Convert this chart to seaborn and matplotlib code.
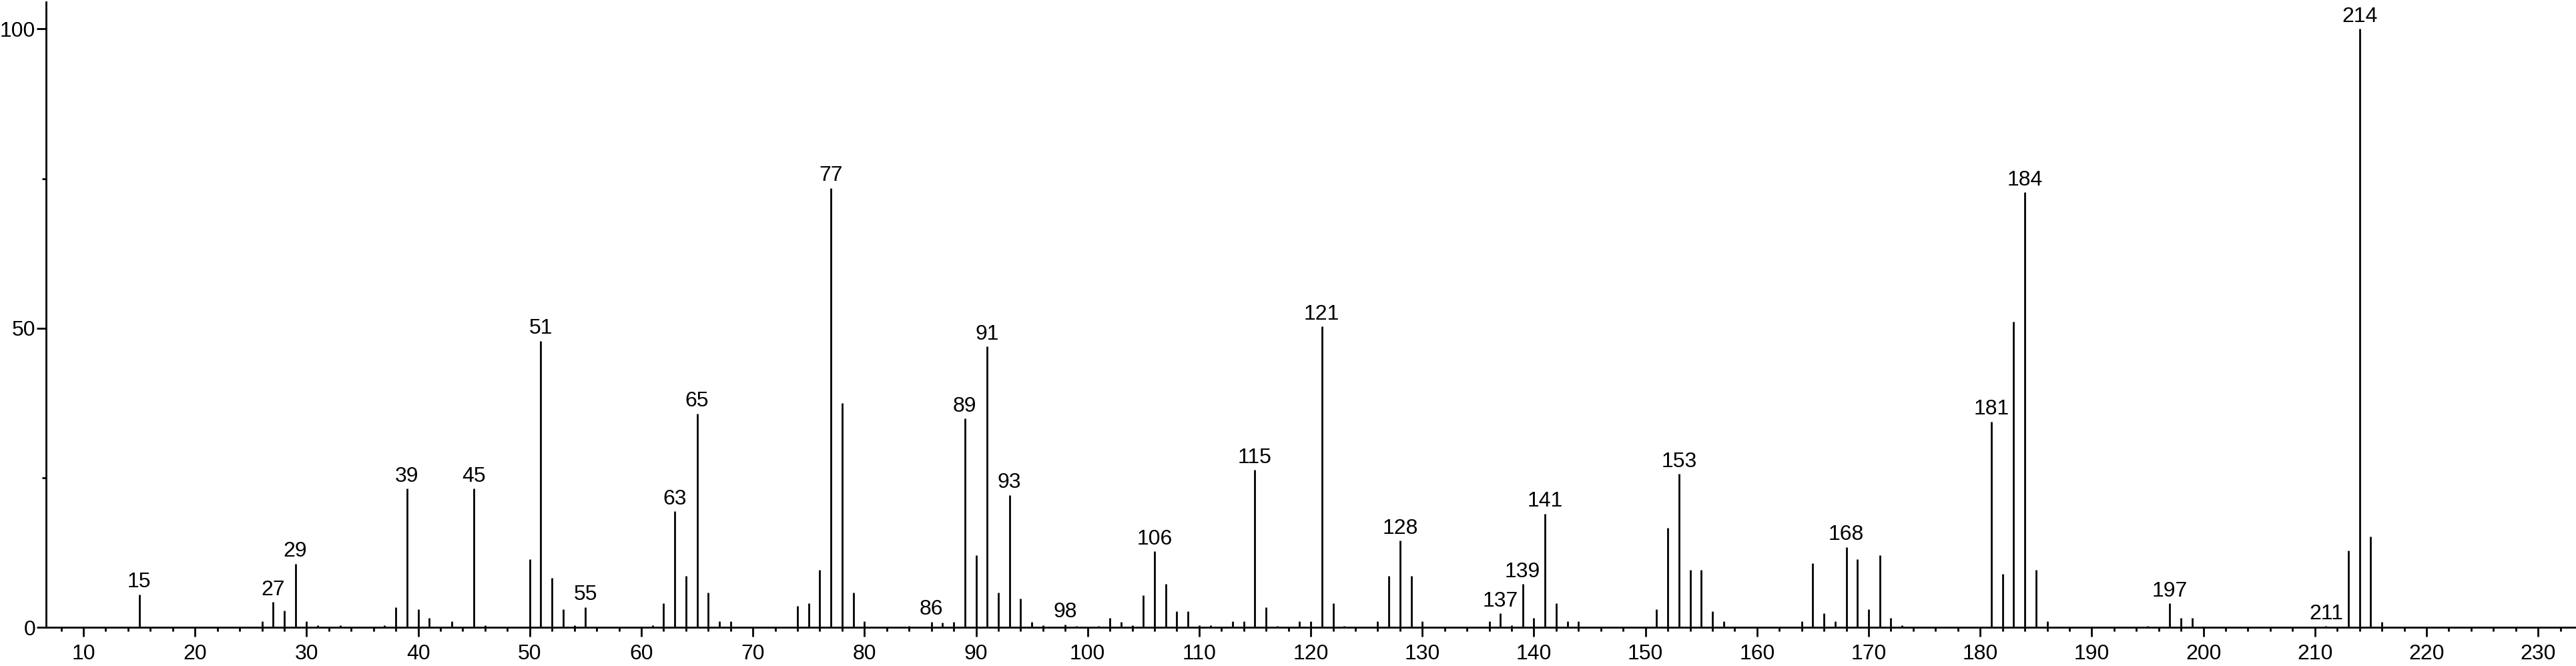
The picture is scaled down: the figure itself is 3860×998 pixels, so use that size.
import matplotlib
matplotlib.use("Agg")
import matplotlib.pyplot as plt
from matplotlib.ticker import MultipleLocator
import seaborn as sns
import pandas as pd

# m/z values and relative intensities (%)
mz = [15, 26, 27, 28, 29, 30, 31, 33, 37, 38, 39, 40, 41, 43, 45, 46,
      50, 51, 52, 53, 54, 55, 61, 62, 63, 64, 65, 66, 67, 68,
      74, 75, 76, 77, 78, 79, 80, 84, 86, 87, 88, 89, 90, 91, 92, 93, 94, 95, 96,
      98, 99, 101, 102, 103, 104, 105, 106, 107, 108, 109, 110, 111, 113, 114,
      115, 116, 117, 119, 120, 121, 122, 123, 126, 127, 128, 129, 130,
      136, 137, 138, 139, 140, 141, 142, 143, 144,
      151, 152, 153, 154, 155, 156, 157,
      164, 165, 166, 167, 168, 169, 170, 171, 172, 173,
      181, 182, 183, 184, 185, 186,
      195, 197, 198, 199, 211, 213, 214, 215, 216]
intensity = [5.5, 1.0, 4.2, 2.8, 10.6, 1.0, 0.3, 0.3, 0.3, 3.4, 23.2, 3.0, 1.6, 1.0, 23.2, 0.3,
             11.4, 47.9, 8.2, 3.0, 0.3, 3.4, 0.3, 4.0, 19.4, 8.6, 35.7, 5.8, 1.0, 1.0,
             3.6, 4.0, 9.6, 73.4, 37.5, 5.8, 1.0, 0.2, 0.9, 0.8, 0.9, 34.9, 12.0, 46.9, 5.8, 22.1, 4.8, 0.9, 0.3,
             0.5, 0.2, 0.2, 1.6, 0.9, 0.3, 5.4, 12.7, 7.2, 2.7, 2.7, 0.3, 0.3, 1.0, 1.0,
             26.3, 3.4, 0.2, 1.0, 1.0, 50.3, 4.0, 0.2, 1.0, 8.6, 14.5, 8.6, 1.0,
             1.0, 2.3, 0.3, 7.2, 1.6, 19.0, 4.0, 1.0, 1.0,
             3.0, 16.6, 25.6, 9.6, 9.6, 2.7, 1.0,
             1.0, 10.7, 2.3, 1.0, 13.4, 11.4, 3.0, 12.1, 1.6, 0.3,
             34.4, 8.9, 51.1, 72.7, 9.6, 1.0,
             0.2, 4.0, 1.6, 1.6, 0.2, 12.8, 100.0, 15.2, 0.9]
labeled = [15, 27, 29, 39, 45, 51, 55, 63, 65, 77, 86, 89, 91, 93, 98, 106,
           115, 121, 128, 137, 139, 141, 153, 168, 181, 184, 197, 211, 214]
xticks = [10, 20, 30, 40, 50, 60, 70, 80, 90, 100, 110, 120, 130, 140, 150,
          160, 170, 180, 190, 200, 210, 220, 230]
yticks = [0, 50, 100]

df = pd.DataFrame({"mz": mz, "intensity": intensity})

sns.set_style("ticks")
plt.rcParams["font.family"] = ["Liberation Sans", "DejaVu Sans"]

W, H = 3860, 998
fig = plt.figure(figsize=(W / 100, H / 100), dpi=100)
ax = fig.add_axes([69 / W, 58 / H, 1 - 69 / W, 937 / H])

ax.vlines(df["mz"], 0, df["intensity"], colors="black", linewidth=2.0)

lut = dict(zip(mz, intensity))
for m in labeled:
    ax.annotate(str(m), xy=(m, lut[m]), xytext=(0, 2.5), textcoords="offset points",
                ha="center", va="bottom", fontsize=23, color="black",
                bbox=dict(boxstyle="square,pad=0.05", fc="white", ec="none"))

ax.set_xlim(6.65, 233.4)
ax.set_ylim(0, 104.5)
ax.set_xticks(xticks)
ax.set_yticks(yticks)
ax.xaxis.set_minor_locator(MultipleLocator(2))
ax.yaxis.set_minor_locator(MultipleLocator(25))
ax.tick_params(axis="both", which="major", direction="out", length=10, width=2.0,
               labelsize=23, color="black", labelcolor="black")
ax.tick_params(axis="both", which="minor", direction="out", length=4.5, width=2.0,
               color="black")
ax.tick_params(axis="x", which="major", pad=8)
ax.tick_params(axis="y", which="major", pad=1.5)

sns.despine(ax=ax, top=True, right=True)
for s in ("left", "bottom"):
    ax.spines[s].set_linewidth(2.0)
    ax.spines[s].set_color("black")
ax.set_xlabel("")
ax.set_ylabel("")
ax.grid(False)

fig.savefig("out.png", dpi=100, facecolor="white")
